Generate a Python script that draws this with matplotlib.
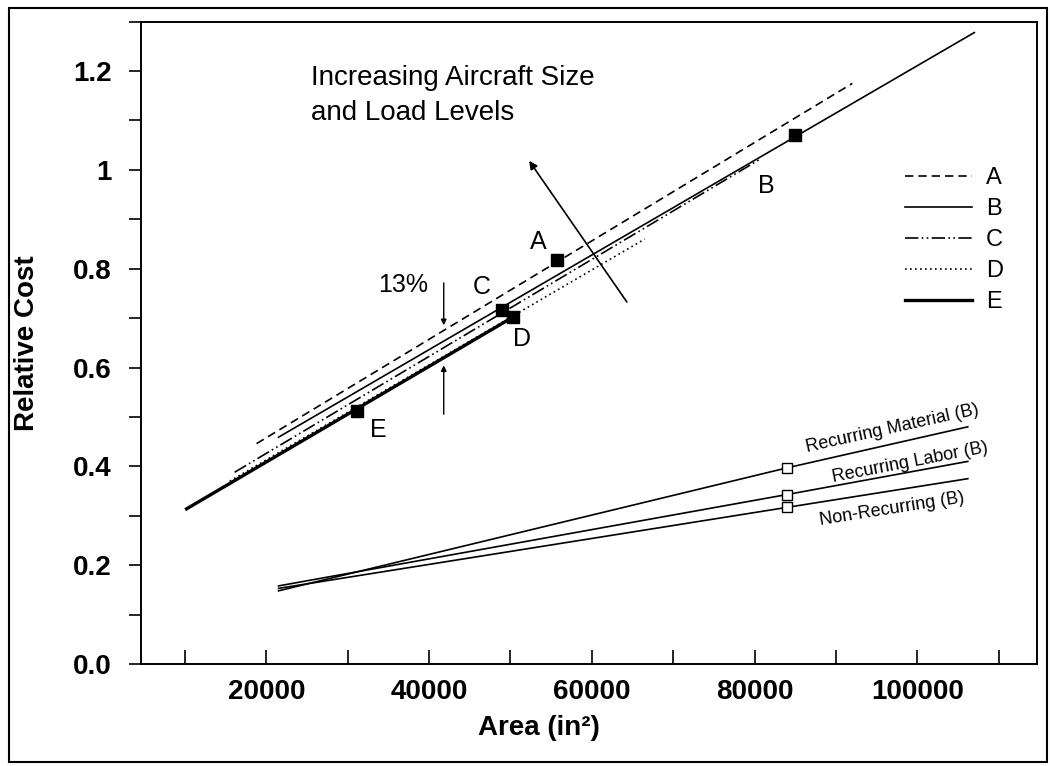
import matplotlib.pyplot as plt
from matplotlib.patches import Rectangle

plt.rcParams['font.family'] = ['Liberation Sans', 'DejaVu Sans']

# design concepts A-E: line ends and the design point on each
designs = ['A', 'B', 'C', 'D', 'E']
a_area = [18800, 92000]
a_cost = [0.446, 1.175]
b_area = [21500, 107000]
b_cost = [0.459, 1.278]
c_area = [16100, 80500]
c_cost = [0.388, 1.02]
d_area = [15500, 66500]
d_cost = [0.37, 0.86]
e_area = [10200, 50300]
e_cost = [0.314, 0.702]

point_area = [55700, 85000, 48900, 50300, 31100]
point_cost = [0.817, 1.07, 0.716, 0.702, 0.513]

# cost breakdown for design B
rec_area = [21500, 84000, 106200]
rec_material = [0.148, 0.397, 0.48]
rec_labor = [0.158, 0.343, 0.41]
non_recurring = [0.153, 0.317, 0.375]

fig = plt.figure(figsize=(10.5, 7.66), dpi=100)
ax = fig.add_axes([0.1343, 0.1332, 0.8533, 0.8385])

ax.plot(a_area, a_cost, color='k', lw=1.2, ls=(0, (5, 3)), label='A')
ax.plot(b_area, b_cost, color='k', lw=1.2, label='B')
ax.plot(c_area, c_cost, color='k', lw=1.2, ls=(0, (8, 2, 1, 2, 1, 2)), label='C')
ax.plot(d_area, d_cost, color='k', lw=1.2, ls=(0, (1, 2)), label='D')
ax.plot(e_area, e_cost, color='k', lw=2.4, label='E')
ax.plot(point_area, point_cost, 's', color='k', ms=8.5, ls='none')

for ys in (rec_material, rec_labor, non_recurring):
    ax.plot(rec_area, ys, color='k', lw=1.2)
    ax.plot(rec_area[1], ys[1], 's', mfc='white', mec='k', ms=7, mew=1)

ax.text(96900, 0.477, 'Recurring Material (B)', fontsize=13, rotation=12.5,
        ha='center', va='center')
ax.text(99100, 0.408, 'Recurring Labor (B)', fontsize=13, rotation=11,
        ha='center', va='center')
ax.text(96900, 0.314, 'Non-Recurring (B)', fontsize=13, rotation=9,
        ha='center', va='center')

# letter labels next to the design points
ax.text(53400, 0.854, 'A', fontsize=18, ha='center', va='center')
ax.text(81500, 0.968, 'B', fontsize=18, ha='center', va='center')
ax.text(46450, 0.763, 'C', fontsize=18, ha='center', va='center')
ax.text(51400, 0.658, 'D', fontsize=18, ha='center', va='center')
ax.text(33750, 0.474, 'E', fontsize=18, ha='center', va='center')

ax.text(25500, 1.15, 'Increasing Aircraft Size\nand Load Levels', fontsize=20,
        ha='left', va='center', linespacing=1.45)
ax.annotate('', xy=(52100, 1.023), xytext=(64500, 0.728),
            arrowprops=dict(arrowstyle='-|>', color='k', lw=1.2, mutation_scale=12))

ax.text(36800, 0.767, '13%', fontsize=18, ha='center', va='center')
ax.annotate('', xy=(41800, 0.68), xytext=(41800, 0.777),
            arrowprops=dict(arrowstyle='-|>', color='k', lw=1.0, mutation_scale=8))
ax.annotate('', xy=(41800, 0.61), xytext=(41800, 0.50),
            arrowprops=dict(arrowstyle='-|>', color='k', lw=1.0, mutation_scale=8))

ax.set_xlim(4600, 114700)
ax.set_ylim(0, 1.3)
ax.set_xticks(range(10000, 110001, 10000), minor=True)
ax.set_xticks(range(20000, 100001, 20000))
ax.set_xticklabels([str(v) for v in range(20000, 100001, 20000)])
ax.set_yticks([i / 10 for i in range(14)], minor=True)
ax.set_yticks([0, 0.2, 0.4, 0.6, 0.8, 1.0, 1.2])
ax.set_yticklabels(['0.0', '0.2', '0.4', '0.6', '0.8', '1', '1.2'])
ax.tick_params(axis='x', which='both', direction='in', length=10, width=1.2, pad=11)
ax.tick_params(axis='y', which='both', direction='out', length=9, width=1.2, pad=12)
for lab in ax.get_xticklabels() + ax.get_yticklabels():
    lab.set_fontsize(20)
    lab.set_fontweight('bold')
for s in ax.spines.values():
    s.set_linewidth(1.4)

ax.set_xlabel('Area (in²)', fontsize=20, fontweight='bold')
ax.xaxis.set_label_coords(0.444, -0.079)
ax.set_ylabel('Relative Cost', fontsize=20, fontweight='bold')
ax.yaxis.set_label_coords(-0.113, 0.5)

ax.legend(loc='upper left', bbox_to_anchor=(0.8527, 0.774), frameon=False,
          fontsize=17, handlelength=2.84, handletextpad=0.6, labelspacing=0.385,
          borderpad=0, borderaxespad=0)

fig.add_artist(Rectangle((9 / 1050, 1 - 762 / 766), 1038 / 1050, 754 / 766,
                         transform=fig.transFigure, fill=False, lw=1.5, color='k'))

fig.savefig('out.png', dpi=100)
